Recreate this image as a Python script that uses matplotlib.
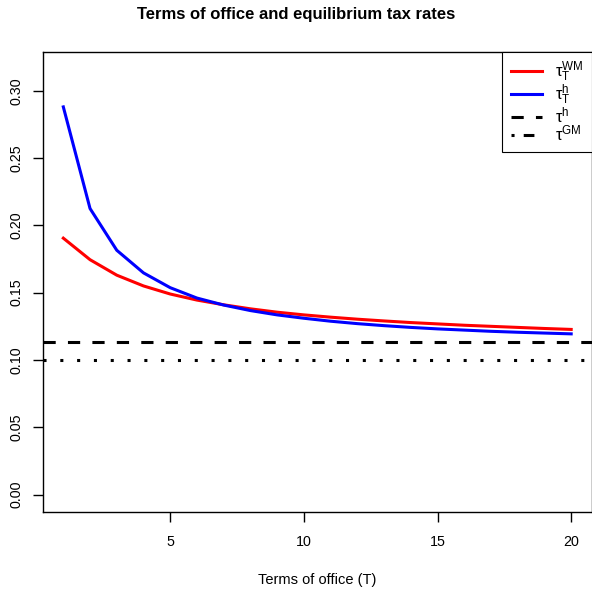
import matplotlib
matplotlib.use("Agg")
import matplotlib.pyplot as plt
from matplotlib.lines import Line2D

plt.rcParams['font.family'] = ['Liberation Sans', 'DejaVu Sans']
plt.rcParams['mathtext.fontset'] = 'custom'
plt.rcParams['mathtext.rm'] = 'Liberation Sans'
plt.rcParams['mathtext.it'] = 'Liberation Sans'

# Terms of office T = 1..20
terms = list(range(1, 21))

# tau_T^WM (red) and tau_T^h (blue)
tau_wm = [0.1905, 0.1745, 0.1630, 0.1550, 0.1490, 0.1445, 0.1410, 0.1380,
          0.1355, 0.1335, 0.1318, 0.1303, 0.1290, 0.1278, 0.1268, 0.1258,
          0.1250, 0.1242, 0.1234, 0.1227]
tau_hT = [0.2880, 0.2125, 0.1815, 0.1647, 0.1537, 0.1460, 0.1408, 0.1367,
          0.1335, 0.1310, 0.1288, 0.1270, 0.1255, 0.1242, 0.1231, 0.1222,
          0.1213, 0.1206, 0.1200, 0.1194]

# constant rates
tau_h = 0.1134
tau_gm = 0.1003

legend_labels = [r'$\mathrm{\tau}_{T}^{WM}$', r'$\mathrm{\tau}_{T}^{h}$',
                 r'$\mathrm{\tau}^{h}$', r'$\mathrm{\tau}^{GM}$']

fig = plt.figure(figsize=(5.92, 5.91), dpi=100)
ax = fig.add_axes([43 / 592, 1 - 511.7 / 591, (591.5 - 43) / 592, (511.7 - 51.7) / 591])

lw = 2.2
ax.plot(terms, tau_wm, color='#FF0000', lw=lw)
ax.plot(terms, tau_hT, color='#0000FF', lw=lw)
ax.axhline(tau_h, color='black', lw=lw, dashes=(4, 4), dash_capstyle='butt')
ax.axhline(tau_gm, color='black', lw=lw, dashes=(1, 4.5), dash_capstyle='butt')

ax.set_xlim(0.24, 20.76)
ax.set_ylim(-0.0127, 0.329)
ax.set_xticks([5, 10, 15, 20])
ax.set_yticks([0.0, 0.05, 0.10, 0.15, 0.20, 0.25, 0.30])
ax.set_yticklabels(['0.00', '0.05', '0.10', '0.15', '0.20', '0.25', '0.30'],
                   rotation=90, va='center')
ax.tick_params(axis='both', direction='out', length=7, width=1, labelsize=10.3)
ax.tick_params(axis='x', pad=10)
ax.tick_params(axis='y', pad=7)
for s in ax.spines.values():
    s.set_linewidth(1)
    s.set_color('black')

ax.set_xlabel('Terms of office (T)', fontsize=10.5, labelpad=17)
fig.text(0.5, 1 - 14 / 591, 'Terms of office and equilibrium tax rates',
         ha='center', va='center', fontsize=12, fontweight='bold')

handles = [
    Line2D([], [], color='#FF0000', lw=lw),
    Line2D([], [], color='#0000FF', lw=lw),
    Line2D([], [], color='black', lw=lw, dashes=(4, 4), dash_capstyle='butt'),
    Line2D([], [], color='black', lw=lw, dashes=(1, 3, 3.5, 3), dash_capstyle='butt'),
]
leg = ax.legend(handles, legend_labels, loc='upper right', borderaxespad=0,
                fancybox=False, framealpha=1, edgecolor='black', fontsize=12,
                handlelength=1.9, labelspacing=-0.1, borderpad=0.5,
                handletextpad=0.75)
leg.get_frame().set_linewidth(0.8)

fig.savefig('out.png', dpi=100)
